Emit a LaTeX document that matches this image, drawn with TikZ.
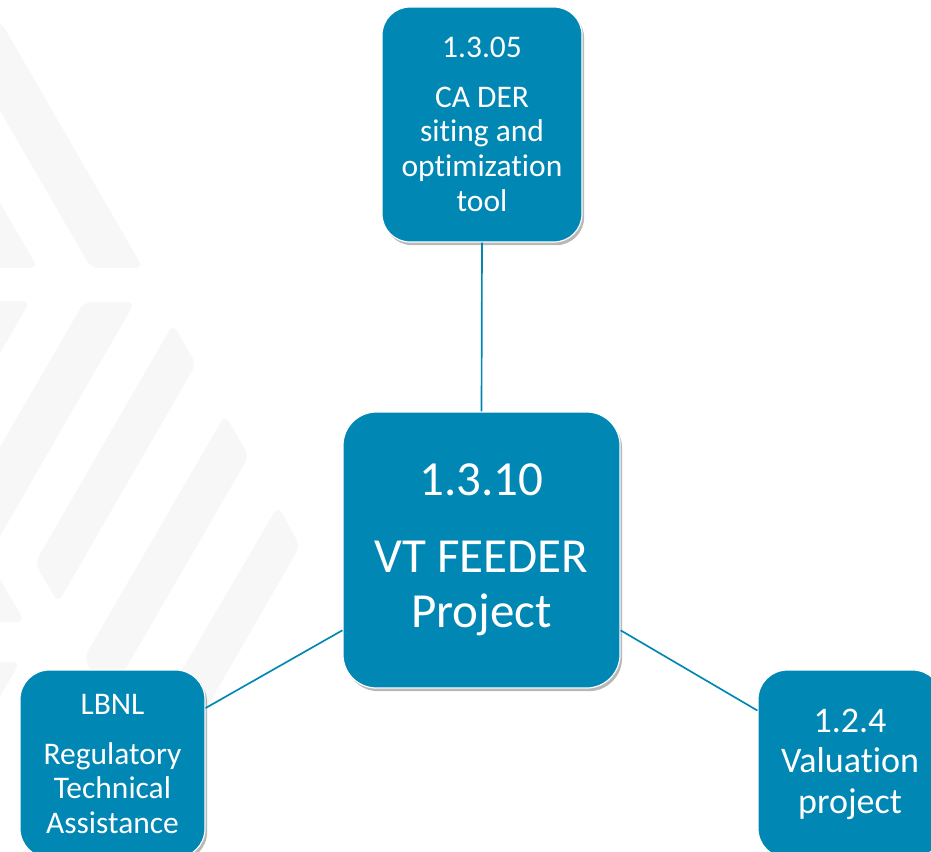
\documentclass[tikz,border=0pt]{standalone}
\usepackage{fontspec}
\setmainfont{Carlito}[Ligatures=NoCommon]
\usetikzlibrary{shadows}
\definecolor{boxteal}{RGB}{0,135,180}
\definecolor{stripegray}{RGB}{247,247,247}
\begin{document}
\begin{tikzpicture}[x=0.75pt,y=-0.75pt,
  stripe/.style={fill=stripegray, rounded corners=6pt},
  tbox/.style={draw=white, line width=0.9pt, fill=boxteal, text=white,
    align=center, inner sep=0pt,
    drop shadow={shadow xshift=1.6pt, shadow yshift=-2.4pt, opacity=0.28, fill=black}},
  smallfont/.style={font=\fontsize{23.6pt}{26pt}\selectfont},
  bigfont/.style={font=\fontsize{36.75pt}{41.25pt}\selectfont},
  midfont/.style={font=\fontsize{27pt}{30.4pt}\selectfont},
  link/.style={draw=boxteal, line width=1.25pt}]
\path[use as bounding box, clip] (0,0) rectangle (931,852);
\fill[white] (0,0) rectangle (931,852);
% faint watermark stripes
\fill[stripe] (-51,22) -- (1,22) -- (143,268) -- (91,268) -- cycle;
\fill[stripe] (-20,169) -- (38,268) -- (-20,268) -- cycle;
\fill[stripe] (-20,301) -- (30,301) -- (-20,388) -- cycle;
\fill[stripe] (84,302) -- (135,302) -- (-30,588) -- (-30,499) -- cycle;
\fill[stripe] (173,324) -- (196,364) -- (58,603) -- (35,563) -- cycle;
\fill[stripe] (225,415) -- (249,456) -- (108,699) -- (84,658) -- cycle;
\fill[stripe] (278,506) -- (300,546) -- (162,785) -- (138,745) -- cycle;
\fill[stripe] (-20,546) -- (25,622) -- (-20,622) -- cycle;
\fill[stripe] (-20,662) -- (20,662) -- (-20,731) -- cycle;
% boxes
\node[tbox, smallfont, minimum width=150pt, minimum height=176.25pt, rounded corners=21pt]
  (der) at (482,124.5) {1.3.05\\[11pt]CA DER\\siting and\\optimization\\tool};
\node[tbox, bigfont, minimum width=207.75pt, minimum height=207pt, rounded corners=25pt]
  (vt) at (481.5,550) {1.3.10\\[16.5pt]VT FEEDER\\Project};
\node[tbox, smallfont, minimum width=138.75pt, minimum height=141pt, rounded corners=22pt]
  (lbnl) at (112.5,764) {LBNL\\[11.5pt]Regulatory\\Technical\\Assistance};
\node[tbox, midfont, minimum width=138pt, minimum height=141pt, rounded corners=22pt]
  (val) at (850,764) {1.2.4\\Valuation\\project};
% connectors
\draw[link] (der.south) -- (vt.north);
\draw[link] (lbnl.31) -- (vt.210);
\draw[link] (vt.330) -- (val.150);
\end{tikzpicture}
\end{document}
